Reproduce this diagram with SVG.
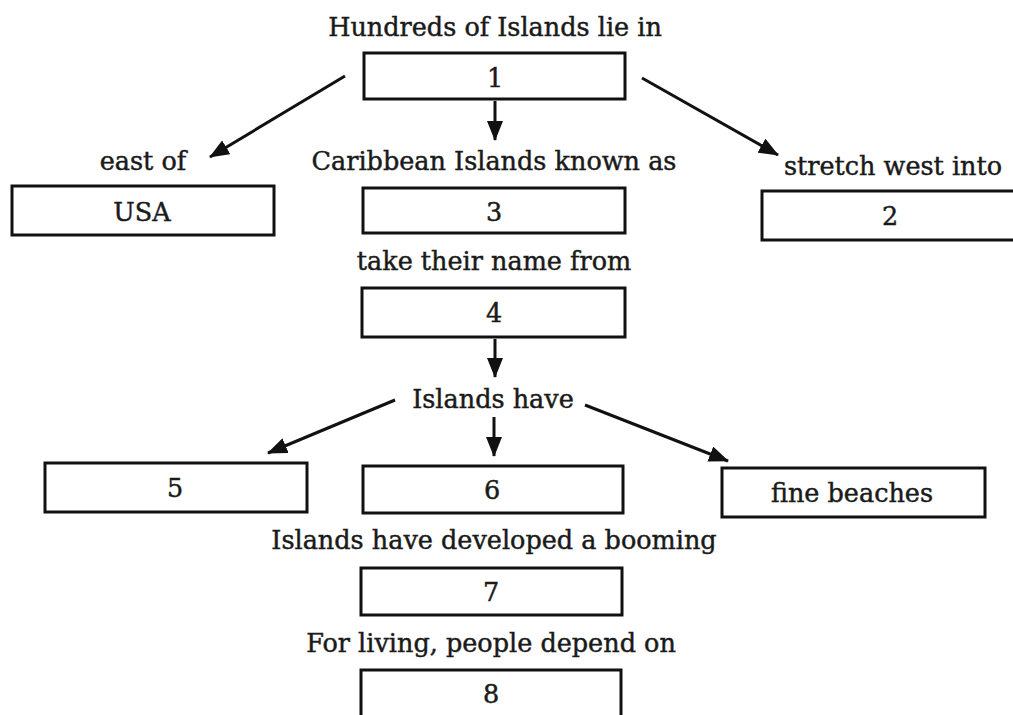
<svg xmlns="http://www.w3.org/2000/svg" width="1013" height="715" viewBox="0 0 1013 715">
  <style>
    .box { fill: #ffffff; stroke: #111111; stroke-width: 3; }
    .lbl { font-family: "DejaVu Serif", "Liberation Serif", serif; font-size: 25.5px; fill: #1a1a1a; stroke: #1a1a1a; stroke-width: 0.45; text-anchor: middle; }
    .edge { stroke: #111111; stroke-width: 3; fill: none; marker-end: url(#head); }
  </style>
  <defs>
    <marker id="head" viewBox="0 0 20 16" refX="19" refY="8" markerWidth="20" markerHeight="16" markerUnits="userSpaceOnUse" orient="auto">
      <path d="M0,0 L20,8 L0,16 z" fill="#111111"/>
    </marker>
  </defs>
  <rect width="1013" height="715" fill="#ffffff"/>

  <!-- connectors -->
  <g id="connectors">
    <line class="edge" x1="345" y1="76" x2="210" y2="157"/>
    <line class="edge" x1="495" y1="101" x2="495" y2="140"/>
    <line class="edge" x1="642" y1="78" x2="778" y2="155"/>
    <line class="edge" x1="495" y1="339" x2="495" y2="377"/>
    <line class="edge" x1="395" y1="400" x2="268" y2="453"/>
    <line class="edge" x1="494" y1="417" x2="494" y2="456"/>
    <line class="edge" x1="585" y1="405" x2="728" y2="461"/>
  </g>

  <!-- top caption and box 1 -->
  <g id="node-1">
    <text class="lbl" x="495" y="36">Hundreds of Islands lie in</text>
    <rect class="box" x="364" y="53" width="261" height="46"/>
    <text class="lbl" x="495" y="87">1</text>
  </g>

  <g id="node-usa">
    <text class="lbl" x="143" y="170">east of</text>
    <rect class="box" x="12" y="186" width="262" height="49"/>
    <text class="lbl" x="142" y="221">USA</text>
  </g>

  <g id="node-3">
    <text class="lbl" x="494" y="170">Caribbean Islands known as</text>
    <rect class="box" x="363" y="188" width="262" height="45"/>
    <text class="lbl" x="494" y="221">3</text>
  </g>

  <g id="node-2">
    <text class="lbl" x="893" y="175">stretch west into</text>
    <rect class="box" x="762" y="191" width="260" height="49"/>
    <text class="lbl" x="890" y="225">2</text>
  </g>

  <g id="node-4">
    <text class="lbl" x="494" y="270">take their name from</text>
    <rect class="box" x="362" y="288" width="263" height="49"/>
    <text class="lbl" x="494" y="322">4</text>
  </g>

  <g id="node-islands-have">
    <text class="lbl" x="493" y="408">Islands have</text>
  </g>

  <g id="node-5">
    <rect class="box" x="45" y="463" width="262" height="49"/>
    <text class="lbl" x="175" y="497">5</text>
  </g>

  <g id="node-6">
    <rect class="box" x="363" y="466" width="260" height="47"/>
    <text class="lbl" x="492" y="499">6</text>
  </g>

  <g id="node-beaches">
    <rect class="box" x="722" y="468" width="263" height="49"/>
    <text class="lbl" x="852" y="502">fine beaches</text>
  </g>

  <g id="node-7">
    <text class="lbl" x="494" y="549">Islands have developed a booming</text>
    <rect class="box" x="361" y="568" width="261" height="47"/>
    <text class="lbl" x="491" y="601">7</text>
  </g>

  <g id="node-8">
    <text class="lbl" x="491" y="652">For living, people depend on</text>
    <rect class="box" x="361" y="670" width="260" height="60"/>
    <text class="lbl" x="491" y="703">8</text>
  </g>
</svg>
